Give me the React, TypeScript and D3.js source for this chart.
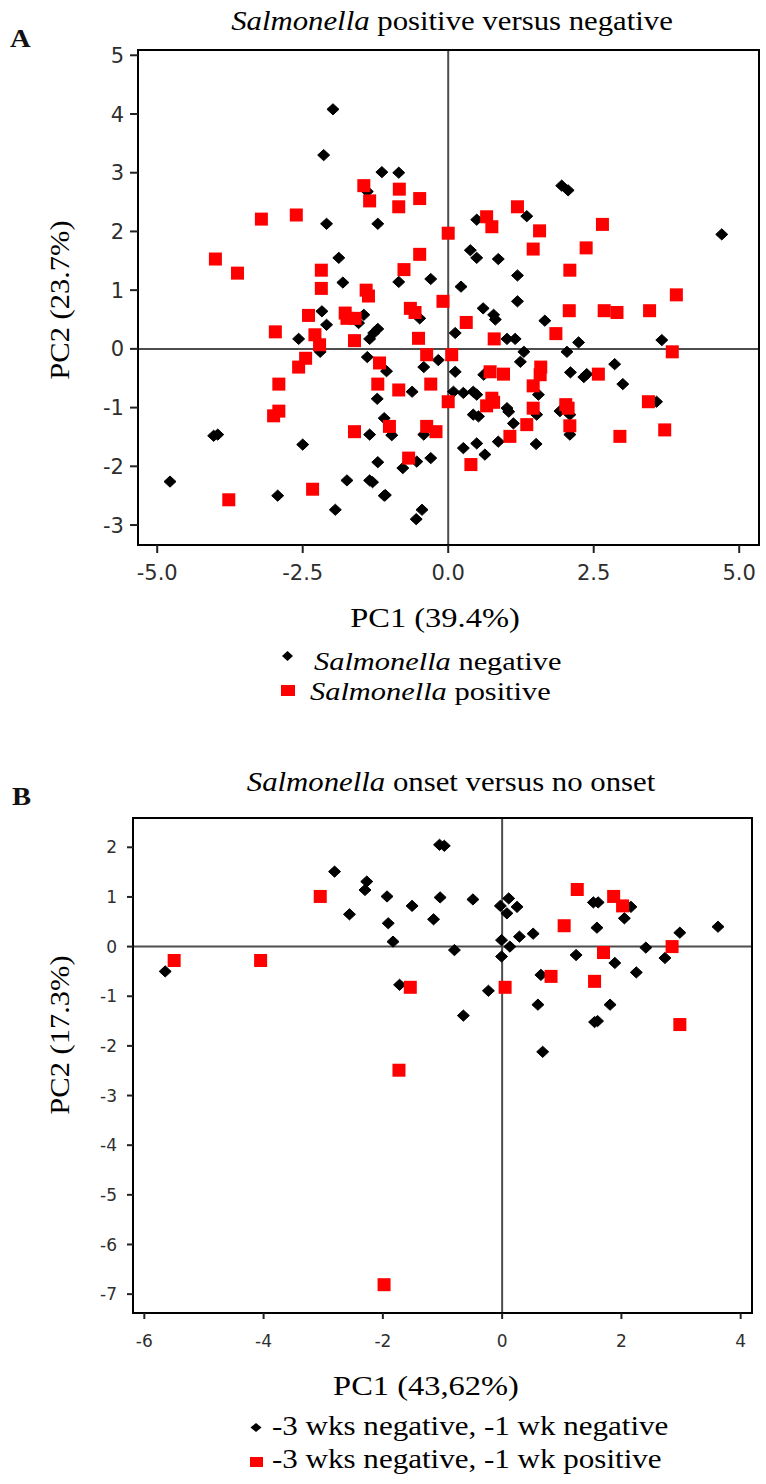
import React from "react";
import * as d3 from "d3";

// ---------- DATA ----------
// Panel A: Salmonella negative (black diamonds) [PC1, PC2]
const negativeA: [number, number][] = [
  [-1.98, 4.08], [-2.14, 3.3], [-1.14, 3.01], [-0.85, 3.0], [-1.39, 2.68],
  [-2.09, 2.13], [-1.21, 2.13], [1.95, 2.78], [2.06, 2.7], [0.49, 2.2],
  [1.35, 2.26], [-1.88, 1.55], [-1.81, 1.13], [-0.85, 1.14], [0.38, 1.68],
  [0.49, 1.55], [0.86, 1.53], [1.19, 1.25], [0.22, 1.06], [-0.3, 1.19],
  [-2.17, 0.64], [-2.09, 0.41], [-1.45, 0.58], [-1.54, 0.44], [-2.57, 0.17],
  [-2.2, -0.05], [-1.35, 0.17], [-1.21, 0.34], [-1.28, 0.27], [-1.39, -0.14],
  [-1.06, -0.38], [-1.22, -0.85], [-4.03, -1.48], [-3.96, -1.46], [-2.5, -1.63],
  [-1.35, -1.46], [-1.1, -1.18], [-0.97, -1.47], [-1.21, -1.93], [-0.78, -2.03],
  [-4.78, -2.26], [-2.93, -2.5], [-1.74, -2.24], [-1.35, -2.24], [-1.3, -2.27],
  [-1.1, -2.5], [-1.94, -2.74], [-0.49, 0.52], [0.6, 0.69], [0.78, 0.58],
  [0.81, 0.5], [1.19, 0.81], [1.66, 0.48], [0.12, 0.27], [1.01, 0.17],
  [1.15, 0.17], [2.24, 0.11], [3.67, 0.15], [-0.17, -0.19], [1.3, -0.05],
  [1.24, -0.22], [2.04, -0.05], [-0.42, -0.31], [0.12, -0.39], [0.61, -0.44],
  [2.1, -0.4], [2.38, -0.43], [2.33, -0.48], [2.86, -0.26], [3.0, -0.6],
  [-0.62, -0.73], [0.09, -0.73], [0.26, -0.75], [0.43, -0.73], [0.49, -0.78],
  [0.43, -1.12], [0.52, -1.15], [1.01, -1.01], [1.04, -1.07], [1.55, -0.78],
  [1.52, -1.12], [1.12, -1.27], [1.92, -1.06], [2.09, -1.12], [2.09, -1.46],
  [3.58, -0.9], [-0.42, -1.46], [0.86, -1.58], [1.51, -1.62], [0.26, -1.69],
  [0.49, -1.61], [0.63, -1.8], [-0.54, -1.92], [-0.3, -1.86], [-1.08, -2.49],
  [-0.45, -2.74], [-0.55, -2.9], [4.7, 1.95],
];

// Panel A: Salmonella positive (red squares)
const positiveA: [number, number][] = [
  [-1.45, 2.78], [-1.35, 2.52], [-0.84, 2.72], [-0.85, 2.42], [-0.49, 2.56],
  [-3.21, 2.21], [-2.61, 2.28], [-4.0, 1.53], [-3.62, 1.29], [-2.18, 1.34],
  [-2.18, 1.03], [-1.41, 1.0], [-1.37, 0.9], [-0.76, 1.35], [0.0, 1.97],
  [0.66, 2.25], [0.75, 2.08], [1.19, 2.42], [1.57, 2.01], [2.65, 2.12],
  [2.37, 1.72], [1.46, 1.7], [2.09, 1.34], [-0.49, 1.61], [-2.4, 0.57],
  [-1.77, 0.61], [-1.74, 0.52], [-1.6, 0.52], [-2.97, 0.29], [-2.29, 0.24],
  [-2.21, 0.07], [-1.61, 0.14], [-2.45, -0.16], [-2.57, -0.31], [-1.18, -0.24],
  [-2.91, -0.6], [-1.21, -0.6], [-3.0, -1.14], [-2.91, -1.06], [-3.77, -2.57],
  [-2.33, -2.39], [-1.61, -1.41], [-1.01, -1.32], [-0.09, 0.81], [-0.65, 0.69],
  [-0.57, 0.62], [0.31, 0.45], [2.08, 0.65], [2.68, 0.65], [2.9, 0.62],
  [3.46, 0.65], [1.85, 0.26], [-0.51, 0.18], [0.79, 0.17], [-0.37, -0.1],
  [0.06, -0.1], [0.72, -0.39], [0.95, -0.43], [1.59, -0.31], [1.58, -0.44],
  [2.58, -0.43], [-0.85, -0.7], [-0.3, -0.6], [0.0, -0.9], [0.75, -0.84],
  [0.66, -0.97], [0.78, -0.91], [1.46, -0.63], [1.46, -1.01], [1.35, -1.29],
  [2.02, -0.95], [2.06, -1.01], [2.09, -1.31], [3.44, -0.9], [2.95, -1.49],
  [3.72, -1.38], [-0.37, -1.32], [-0.21, -1.41], [1.06, -1.49], [0.39, -1.97],
  [-0.68, -1.86], [3.92, 0.92], [3.85, -0.05],
];

// Panel B: -3 wks negative, -1 wk negative (black diamonds)
const negativeB: [number, number][] = [
  [-5.65, -0.5], [-2.81, 1.51], [-2.56, 0.65], [-2.27, 1.31], [-2.3, 1.14],
  [-1.93, 1.01], [-1.91, 0.47], [-1.83, 0.1], [-1.72, -0.77], [-1.05, 2.05],
  [-0.97, 2.03], [-1.51, 0.82], [-1.04, 0.99], [-1.15, 0.55], [-0.49, 0.95],
  [-0.8, -0.07], [-0.03, 0.82], [0.11, 0.97], [0.25, 0.8], [0.08, 0.67],
  [-0.01, 0.13], [0.13, 0.0], [-0.01, -0.2], [0.29, 0.2], [0.52, 0.26],
  [1.24, -0.17], [1.53, 0.89], [1.61, 0.89], [2.16, 0.8], [2.05, 0.57],
  [1.59, 0.38], [2.41, -0.02], [2.73, -0.23], [1.89, -0.33], [2.25, -0.52],
  [0.65, -0.57], [-0.23, -0.89], [-0.65, -1.39], [0.6, -1.17], [1.81, -1.17],
  [1.55, -1.52], [1.6, -1.5], [0.68, -2.12], [3.62, 0.4], [2.98, 0.28],
];

// Panel B: -3 wks negative, -1 wk positive (red squares)
const positiveB: [number, number][] = [
  [-5.5, -0.28], [-4.05, -0.28], [-3.05, 1.01], [1.26, 1.15], [1.87, 1.01],
  [2.02, 0.82], [1.04, 0.42], [1.7, -0.12], [2.85, 0.0], [0.82, -0.6],
  [1.55, -0.7], [-1.54, -0.82], [0.05, -0.82], [-1.73, -2.49], [-1.98, -6.81],
  [2.98, -1.57],
];

const xTicksA = [-5, -2.5, 0, 2.5, 5];
const yTicksA = [-3, -2, -1, 0, 1, 2, 3, 4, 5];
const xTicksB = [-6, -4, -2, 0, 2, 4];
const yTicksB = [-7, -6, -5, -4, -3, -2, -1, 0, 1, 2];

const legendA = ["negative", "positive"];
const legendB = ["-3 wks negative, -1 wk negative", "-3 wks negative, -1 wk positive"];

// ---------- STYLE ----------
const SERIF = "'Liberation Serif', 'Times New Roman', serif";
const SANS = "'DejaVu Sans', Verdana, sans-serif";
const RED = "#ff0000";

function diamond(cx: number, cy: number, rx: number, ry: number) {
  return `M${cx},${cy - ry}L${cx + rx},${cy}L${cx},${cy + ry}L${cx - rx},${cy}Z`;
}

function SText(props: {
  x: number; y: number; size: number; sx?: number; anchor?: string;
  rotate?: number; weight?: string; fill?: string; children: React.ReactNode;
}) {
  const { x, y, size, sx = 1.15, anchor = "start", rotate = 0, weight = "normal", fill = "#000" } = props;
  return (
    <text
      transform={`translate(${x},${y}) rotate(${rotate}) scale(${sx},1)`}
      textAnchor={anchor as any}
      fontFamily={SERIF}
      fontSize={size}
      fontWeight={weight}
      fill={fill}
    >
      {props.children}
    </text>
  );
}

type PanelProps = {
  left: number; right: number; top: number; bottom: number;
  xDomain: [number, number]; yDomain: [number, number];
  neg: [number, number][]; pos: [number, number][];
  xTicks: number[]; yTicks: number[];
  xFmt: (d: number) => string;
  tickSize: number; tickLen: number; yLabelX: number; xLabelY: number;
};

function Panel(p: PanelProps) {
  const x = d3.scaleLinear().domain(p.xDomain).range([p.left, p.right]);
  const y = d3.scaleLinear().domain(p.yDomain).range([p.top, p.bottom]);
  const x0 = x(0);
  const y0 = y(0);
  return (
    <g>
      {/* zero cross lines */}
      <line x1={x0} x2={x0} y1={p.top} y2={p.bottom} stroke="#4d4d4d" strokeWidth={2} />
      <line x1={p.left} x2={p.right} y1={y0} y2={y0} stroke="#4d4d4d" strokeWidth={2} />
      {/* markers */}
      {p.neg.map((d, i) => (
        <path key={"n" + i} d={diamond(x(d[0]), y(d[1]), 6, 5.6)} fill="#000" stroke="#000" strokeWidth={1} strokeLinejoin="round" />
      ))}
      {p.pos.map((d, i) => (
        <rect key={"p" + i} x={x(d[0]) - 6.5} y={y(d[1]) - 6.5} width={13} height={13} fill={RED} />
      ))}
      {/* frame */}
      <rect x={p.left} y={p.top} width={p.right - p.left} height={p.bottom - p.top} fill="none" stroke="#000" strokeWidth={2} />
      {/* y ticks */}
      {p.yTicks.map((t) => (
        <g key={"yt" + t}>
          <line x1={p.left - p.tickLen} x2={p.left} y1={y(t)} y2={y(t)} stroke="#222" strokeWidth={2} />
          <text x={p.yLabelX} y={y(t)} dy="0.36em" textAnchor="end" fontFamily={SANS} fontSize={p.tickSize} fill="#2e2e2e">
            {String(t)}
          </text>
        </g>
      ))}
      {/* x ticks */}
      {p.xTicks.map((t) => (
        <g key={"xt" + t}>
          <line x1={x(t)} x2={x(t)} y1={p.bottom} y2={p.bottom + p.tickLen} stroke="#222" strokeWidth={2} />
          <text x={x(t)} y={p.xLabelY} textAnchor="middle" fontFamily={SANS} fontSize={p.tickSize} fill="#2e2e2e">
            {p.xFmt(t)}
          </text>
        </g>
      ))}
    </g>
  );
}

export default function App() {
  const W = 766;
  const H = 1484;
  return (
    <svg width={W} height={H} style={{ position: "absolute", left: 0, top: 0, background: "#fff" }}>
      <rect x={0} y={0} width={W} height={H} fill="#fff" />

      {/* ---------------- Panel A ---------------- */}
      <SText x={10} y={47} size={26} sx={1.1} weight="bold" fill="#111">A</SText>
      <SText x={452} y={30} size={27} sx={1.14} anchor="middle">
        <tspan fontStyle="italic">Salmonella</tspan> positive versus negative
      </SText>
      <Panel
        left={138} right={759} top={50} bottom={545}
        xDomain={[-5.33, 5.34]} yDomain={[5.09, -3.34]}
        neg={negativeA} pos={positiveA}
        xTicks={xTicksA} yTicks={yTicksA}
        xFmt={(d) => d.toFixed(1)}
        tickSize={21} tickLen={8} yLabelX={124} xLabelY={580}
      />
      <SText x={60} y={300} size={27} sx={1.13} anchor="middle" rotate={-90}>
        <tspan dy="0.35em">PC2 (23.7%)</tspan>
      </SText>
      <SText x={435} y={627} size={28} sx={1.16} anchor="middle">PC1 (39.4%)</SText>
      {/* legend A */}
      <path d={diamond(287.5, 656, 5.5, 5)} fill="#000" />
      <SText x={314} y={670} size={26} sx={1.17}>
        <tspan fontStyle="italic">Salmonella</tspan> {legendA[0]}
      </SText>
      <rect x={281} y={685} width={14} height={11} fill={RED} />
      <SText x={310} y={700} size={26} sx={1.17}>
        <tspan fontStyle="italic">Salmonella</tspan> {legendA[1]}
      </SText>

      {/* ---------------- Panel B ---------------- */}
      <SText x={12} y={805} size={26} sx={1.1} weight="bold" fill="#111">B</SText>
      <SText x={451} y={791} size={27} sx={1.14} anchor="middle">
        <tspan fontStyle="italic">Salmonella</tspan> onset versus no onset
      </SText>
      <Panel
        left={133} right={752} top={818} bottom={1313}
        xDomain={[-6.19, 4.19]} yDomain={[2.59, -7.38]}
        neg={negativeB} pos={positiveB}
        xTicks={xTicksB} yTicks={yTicksB}
        xFmt={(d) => String(d)}
        tickSize={17} tickLen={6} yLabelX={117} xLabelY={1347}
      />
      <SText x={60} y={1035} size={27} sx={1.13} anchor="middle" rotate={-90}>
        <tspan dy="0.35em">PC2 (17.3%)</tspan>
      </SText>
      <SText x={426} y={1395} size={28} sx={1.16} anchor="middle">PC1 (43,62%)</SText>
      {/* legend B */}
      <path d={diamond(256, 1427.5, 5.5, 4.5)} fill="#000" />
      <SText x={272} y={1435} size={27} sx={1.15}>{legendB[0]}</SText>
      <rect x={250} y={1457} width={13} height={10} fill={RED} />
      <SText x={272} y={1468} size={27} sx={1.15}>{legendB[1]}</SText>
    </svg>
  );
}
